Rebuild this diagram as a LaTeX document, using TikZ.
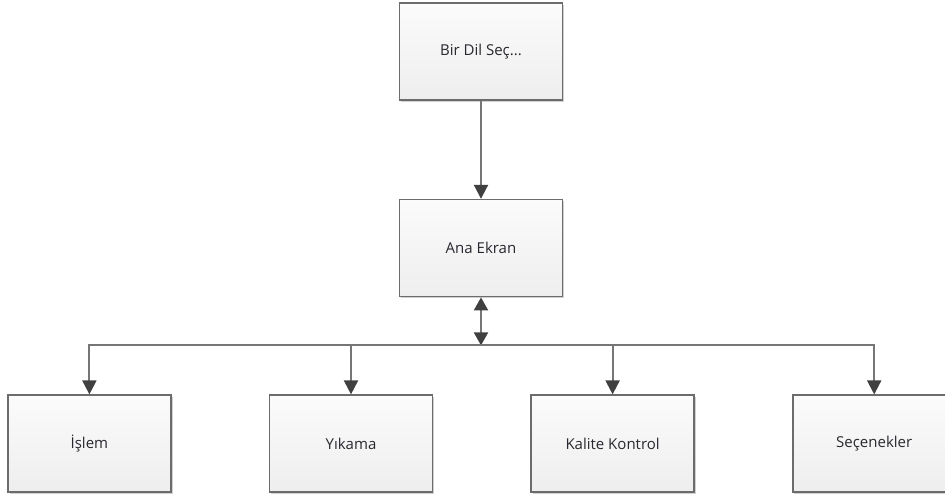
\documentclass[tikz,border=0pt]{standalone}
\usepackage{fontspec}
\setmainfont{Open Sans}
\usepackage{xcolor}
\usepackage{tikz}
\usetikzlibrary{arrows.meta,positioning,shadows}
\definecolor{mnedge}{RGB}{108,108,108}
\definecolor{mnline}{RGB}{118,118,118}
\definecolor{mnhead}{RGB}{64,64,64}
\definecolor{mntop}{RGB}{251,251,251}
\definecolor{mnbot}{RGB}{238,238,238}
\definecolor{mnink}{RGB}{40,40,48}
\tikzset{
  mnbox/.style={
    draw=mnedge, line width=1.6pt, top color=mntop, bottom color=mnbot,
    minimum width=163pt, minimum height=97pt, inner sep=0pt,
    align=center, text=mnink, font=\fontsize{15}{18}\selectfont,
    drop shadow={shadow xshift=1.6pt, shadow yshift=-1.6pt, fill=black, opacity=0.18}
  },
  arr/.style={-{Triangle[length=14pt,width=14pt,color=mnhead]}, draw=mnline, line width=2pt},
  darr/.style={{Triangle[length=13pt,width=14pt,color=mnhead]}-{Triangle[length=13pt,width=14pt,color=mnhead]},
    draw=mnline, line width=2pt}
}
\begin{document}
\begin{tikzpicture}[node distance=97pt]
  \useasboundingbox (0pt,0pt) rectangle (945pt,-496pt);
  \node[mnbox] (dil) at (481pt,-51.5pt) {Bir Dil Seç...};
  \node[mnbox, below=98pt of dil] (ana) {Ana Ekran};
  \node[mnbox, below=of ana, xshift=-130pt] (yikama) {Yıkama};
  \node[mnbox, left=of yikama] (islem) {İşlem};
  \node[mnbox, right=of yikama] (kalite) {Kalite Kontrol};
  \node[mnbox, right=of kalite] (secenek) {Seçenekler};
  \coordinate[below=48pt of ana] (bus);
  \draw[arr] (dil) -- (ana);
  \draw[darr] (ana) -- (bus);
  \draw[arr] (bus) -| (islem);
  \draw[arr] (bus) -| (yikama);
  \draw[arr] (bus) -| (kalite);
  \draw[arr] (bus) -| (secenek);
\end{tikzpicture}
\end{document}
